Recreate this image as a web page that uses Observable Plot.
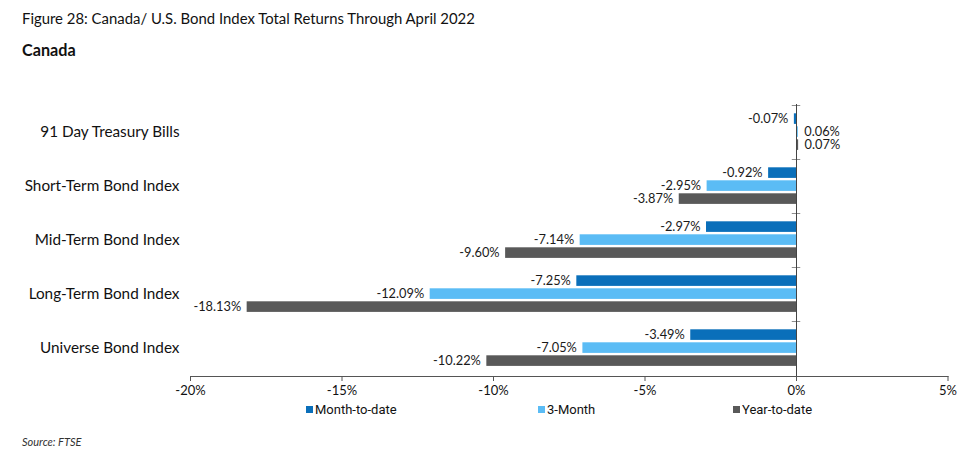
<!DOCTYPE html>
<html><head><meta charset="utf-8">
<script src="https://cdn.jsdelivr.net/npm/d3@7"></script>
<script src="https://cdn.jsdelivr.net/npm/@observablehq/plot@0.6"></script>
<style>
body{margin:0;background:#fff;width:977px;height:451px;position:relative;overflow:hidden;font-family:Lato,"Open Sans",sans-serif;color:#111;}
#title{position:absolute;left:22px;top:9px;font-size:14.9px;}
#sub{position:absolute;left:22px;top:40px;font-size:16.2px;font-weight:bold;}
#chart{position:absolute;left:0;top:62px;}
.leg{position:absolute;top:402px;font-family:Roboto,sans-serif;font-size:13px;display:flex;align-items:center;color:#111;}
.leg i{display:inline-block;width:7px;height:7px;margin-right:2px;}
#src{position:absolute;left:22px;top:435px;font-size:11px;font-style:italic;color:#333;}
</style></head>
<body>
<div id="title">Figure 28: Canada/ U.S. Bond Index Total Returns Through April 2022</div>
<div id="sub">Canada</div>
<div id="chart"></div>
<div id="legend"></div>
<div id="src">Source: FTSE</div>
<script>
const categories = ["91 Day Treasury Bills","Short-Term Bond Index","Mid-Term Bond Index","Long-Term Bond Index","Universe Bond Index"];
const seriesNames = ["Month-to-date","3-Month","Year-to-date"];
const monthToDate = [-0.07, -0.92, -2.97, -7.25, -3.49];
const threeMonth = [0.06, -2.95, -7.14, -12.09, -7.05];
const yearToDate = [0.07, -3.87, -9.60, -18.13, -10.22];
const xTicks = [-20, -15, -10, -5, 0, 5];
const colors = ["#0a6fba", "#5bbcf5", "#595959"];

const seriesValues = [monthToDate, threeMonth, yearToDate];
const rows = [];
seriesNames.forEach((s, si) => categories.forEach((c, ci) => rows.push({category: c, series: s, value: seriesValues[si][ci]})));

const band = 272 / 5;
const slots = [{top: 8.3, h: 11}, {top: 21.3, h: 11}, {top: 34.3, h: 11}];
const fmt = v => v.toFixed(2) + "%";

const marks = [];
seriesNames.forEach((s, si) => {
  const d = rows.filter(r => r.series === s);
  const sl = slots[si];
  marks.push(Plot.barX(d, {x: "value", y: "category", fill: colors[si], insetTop: sl.top, insetBottom: band - sl.top - sl.h}));
  const dy = sl.top + sl.h / 2 - band / 2;
  marks.push(Plot.text(d.filter(r => r.value < 0), {x: "value", y: "category", text: r => fmt(r.value), textAnchor: "end", dx: -6, dy: dy, fontSize: 12.8, fill: "#1a1a1a"}));
  marks.push(Plot.text(d.filter(r => r.value >= 0), {x: "value", y: "category", text: r => fmt(r.value), textAnchor: "start", dx: 6, dy: dy, fontSize: 12.8, fill: "#1a1a1a"}));
});
marks.push(Plot.ruleX([0], {stroke: "#444", strokeWidth: 1}));
marks.push(Plot.barX(categories, {x1: -0.14, x2: 0.14, y: d => d, fill: "#444", insetBottom: band - 1}));
marks.push(Plot.frame({anchor: "bottom", stroke: "#555"}));

const chart = Plot.plot({
  width: 977, height: 344,
  marginLeft: 190, marginRight: 29.5, marginTop: 42, marginBottom: 30,
  style: {fontFamily: "Lato, sans-serif", background: "transparent", color: "#111"},
  x: {domain: [-20, 5], ticks: xTicks, tickFormat: d => d + "%", label: null},
  y: {domain: categories, padding: 0, label: null},
  marks: [
    ...marks,
    Plot.axisX({ticks: xTicks, tickFormat: d => d + "%", tickSize: 5, tickPadding: 4, fontSize: 13, stroke: "#555", label: null}),
    Plot.axisY({tickSize: 0, tickPadding: 11, fontSize: 15.3, label: null})
  ]
});
document.getElementById("chart").appendChild(chart);

const legX = [306, 538, 733];
const legend = document.getElementById("legend");
seriesNames.forEach((s, i) => {
  const el = document.createElement("div");
  el.className = "leg";
  el.style.left = legX[i] + "px";
  el.innerHTML = `<i style="background:${colors[i]}"></i>${s}`;
  legend.appendChild(el);
});
</script>
</body></html>
